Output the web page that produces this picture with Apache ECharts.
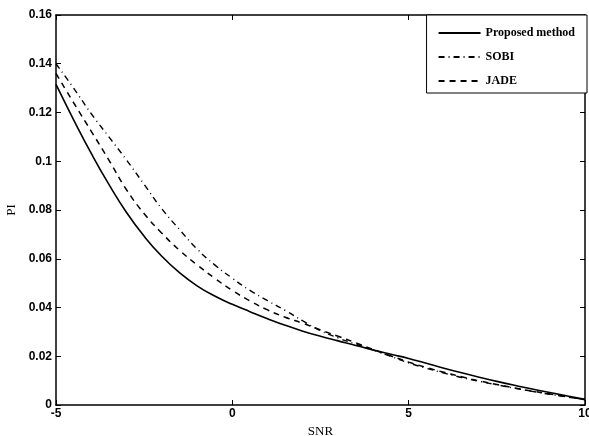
<!DOCTYPE html>
<html>
<head>
<meta charset="utf-8">
<script src="https://cdn.jsdelivr.net/npm/echarts@6/dist/echarts.min.js"></script>
<style>html,body{margin:0;padding:0;background:#fff}#c{width:589px;height:436px}</style>
</head>
<body>
<div id="c"></div>
<script>
const snr = [-5,-4.5,-4,-3.5,-3,-2.5,-2,-1.5,-1,-0.5,0,0.5,1,1.5,2,2.5,3,3.5,4,4.5,5,5.5,6,6.5,7,7.5,8,8.5,9,9.5,10];
const proposed = [0.1315,0.117,0.1032,0.0905,0.079,0.0692,0.061,0.0543,0.0489,0.0447,0.0413,0.0383,0.0354,0.0327,0.0303,0.0282,0.0263,0.0244,0.0226,0.0208,0.0191,0.0171,0.0151,0.0132,0.0114,0.0097,0.0081,0.0066,0.0051,0.0037,0.0023];
const sobi = [0.140,0.130,0.1195,0.110,0.1005,0.0905,0.0805,0.072,0.064,0.0575,0.052,0.047,0.0428,0.0388,0.0345,0.0305,0.0275,0.0250,0.0225,0.0199,0.0173,0.0151,0.0131,0.0113,0.0097,0.0083,0.0069,0.0056,0.0044,0.0033,0.0022];
const jade = [0.136,0.124,0.1123,0.1005,0.0883,0.0785,0.0705,0.0635,0.0575,0.052,0.047,0.0427,0.039,0.036,0.0335,0.0308,0.0282,0.0255,0.0227,0.0201,0.0176,0.0154,0.0134,0.0116,0.0099,0.0084,0.0070,0.0057,0.0045,0.0033,0.0022];
const names = ['Proposed method','SOBI','JADE'];

const toPairs = ys => snr.map((x,i)=>[x,ys[i]]);
const chart = echarts.init(document.getElementById('c'));
const tickFont = {fontFamily:'Liberation Sans', fontWeight:'bold', fontSize:12, color:'#000'};
const axisCommon = {
  axisLine:{show:true, onZero:false, lineStyle:{color:'#000', width:1.5}},
  axisTick:{show:true, inside:true, length:5, lineStyle:{color:'#000'}},
  splitLine:{show:false}
};
chart.setOption({
  animation:false,
  backgroundColor:'#fff',
  grid:{left:56, right:4, top:15, bottom:31, outerBoundsMode:'none', containLabel:false},
  legend:{
    data:names, orient:'vertical', right:2, top:15,
    backgroundColor:'#fff', borderColor:'#000', borderWidth:1,
    padding:[12,12,6,11], itemGap:12, itemWidth:42, itemHeight:10,
    itemStyle:{opacity:0},
    textStyle:{fontFamily:'Liberation Serif', fontWeight:'bold', fontSize:12, color:'#000'}
  },
  xAxis:[
    Object.assign({type:'value', min:-5, max:10, interval:5, position:'bottom',
      name:'SNR', nameLocation:'middle', nameGap:8,
      nameTextStyle:{fontFamily:'Liberation Serif', fontSize:13, color:'#000'},
      axisLabel:Object.assign({margin:3}, tickFont)}, axisCommon),
    Object.assign({type:'value', min:-5, max:10, interval:5, position:'top', axisLabel:{show:false}}, axisCommon)
  ],
  yAxis:[
    Object.assign({type:'value', min:0, max:0.16, interval:0.02, position:'left',
      name:'PI', nameLocation:'middle', nameGap:31,
      nameTextStyle:{fontFamily:'Liberation Serif', fontSize:13, color:'#000'},
      axisLabel:Object.assign({margin:4}, tickFont)}, axisCommon),
    Object.assign({type:'value', min:0, max:0.16, interval:0.02, position:'right', axisLabel:{show:false}}, axisCommon)
  ],
  series:[
    {name:names[0], type:'line', data:toPairs(proposed), smooth:true, symbol:'none', itemStyle:{color:'#000'}, lineStyle:{color:'#000', width:1.6, type:'solid'}},
    {name:names[1], type:'line', data:toPairs(sobi), smooth:true, symbol:'none', itemStyle:{color:'#000'}, lineStyle:{color:'#000', width:1.4, type:[6,4,1,4]}},
    {name:names[2], type:'line', data:toPairs(jade), smooth:true, symbol:'none', itemStyle:{color:'#000'}, lineStyle:{color:'#000', width:1.5, type:[6,5]}}
  ]
});
</script>
</body>
</html>
